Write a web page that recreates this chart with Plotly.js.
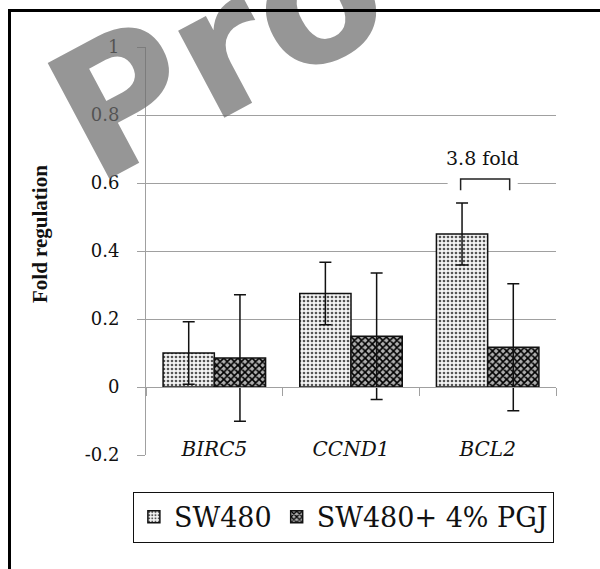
<!DOCTYPE html>
<html>
<head>
<meta charset="utf-8">
<script src="https://cdn.plot.ly/plotly-3.0.1.min.js"></script>
<style>
  html, body { margin: 0; padding: 0; background: #fff; }
  #wrap { position: relative; width: 600px; height: 569px; overflow: hidden; }
  #chart { width: 600px; height: 569px; }
  #frame { position: absolute; left: 8px; top: 9px; width: 700px; height: 700px;
           border-left: 3px solid #000; border-top: 3px solid #000; pointer-events: none; }
</style>
</head>
<body>
<div id="wrap">
  <div id="chart"></div>
  <div id="frame"></div>
</div>
<script>
// ---- data ----
const categories = ["BIRC5", "CCND1", "BCL2"];
const seriesNames = ["SW480", "SW480+ 4% PGJ"];
const sw480 = [0.10, 0.275, 0.45];
const sw480Err = [0.092, 0.092, 0.091];
const pgj = [0.085, 0.149, 0.117];
const pgjErr = [0.186, 0.186, 0.187];
const yTickVals = [-0.2, 0, 0.2, 0.4, 0.6, 0.8, 1];
const yTickText = ["-0.2", "0", "0.2", "0.4", "0.6", "0.8", "1"];
const yRange = [-0.2, 1];
const foldLabel = "3.8 fold";
const yTitle = "Fold regulation";
const watermark = "Pro";

const serif = "'DejaVu Serif', serif";
const gray = "#a0a0a0";

const traces = [
  {
    type: "bar", name: seriesNames[0], x: categories, y: sw480,
    marker: {
      color: "#f2f2f2",
      line: { color: "#111", width: 1.5 },
      pattern: { shape: ".", fgcolor: "#555", bgcolor: "#f4f4f4", size: 4, solidity: 0.35, fillmode: "replace" }
    },
    error_y: { type: "data", array: sw480Err, visible: true, color: "#111", thickness: 1.5, width: 6 }
  },
  {
    type: "bar", name: seriesNames[1], x: categories, y: pgj,
    marker: {
      color: "#444",
      line: { color: "#111", width: 1.5 },
      pattern: { shape: "x", fgcolor: "#000", bgcolor: "#b0b0b0", size: 5, solidity: 0.55, fillmode: "replace" }
    },
    error_y: { type: "data", array: pgjErr, visible: true, color: "#111", thickness: 1.5, width: 6 }
  }
];

const zeroPos = (0 - yRange[0]) / (yRange[1] - yRange[0]);
const bi = categories.length - 1;

const layout = {
  width: 600, height: 569,
  margin: { l: 146, r: 44, t: 47, b: 114 },
  paper_bgcolor: "#fff", plot_bgcolor: "#fff",
  barmode: "group", bargap: 0.25, bargroupgap: 0,
  showlegend: true,
  legend: {
    orientation: "h", x: -0.032, y: -0.09, xanchor: "left", yanchor: "top",
    bordercolor: "#111", borderwidth: 1, bgcolor: "#fff",
    font: { family: serif, size: 27, color: "#111" },
    itemwidth: 30
  },
  xaxis: {
    type: "category", categoryorder: "array", categoryarray: categories,
    anchor: "free", position: zeroPos,
    showline: true, linecolor: gray, linewidth: 1,
    ticks: "outside", tickson: "boundaries", ticklen: 8, tickcolor: gray,
    showgrid: false, zeroline: false,
    ticklabelstandoff: 44,
    tickfont: { family: serif, size: 20, style: "italic", color: "#111" }
  },
  yaxis: {
    range: yRange, tickmode: "array", tickvals: yTickVals, ticktext: yTickText,
    showline: true, linecolor: gray, linewidth: 1,
    ticks: "outside", ticklen: 8, tickcolor: gray,
    showgrid: true, gridcolor: gray, gridwidth: 1,
    zeroline: false,
    ticklabelstandoff: 14,
    tickfont: { family: serif, size: 18, color: "#111" }
  },
  annotations: [
    {
      text: yTitle, xref: "paper", yref: "paper", x: -0.2585, y: 0.5417,
      textangle: -90, showarrow: false, xanchor: "center", yanchor: "middle",
      font: { family: "'Liberation Serif', serif", size: 21, weight: "bold", color: "#111" }
    },
    {
      text: foldLabel, xref: "x", yref: "y", x: categories[bi], y: 0.673,
      xshift: -5, showarrow: false, xanchor: "center", yanchor: "middle",
      font: { family: serif, size: 19, color: "#111" }
    },
    {
      text: watermark, xref: "paper", yref: "paper", x: 0.174, y: 0.992,
      textangle: -28, showarrow: false, xanchor: "center", yanchor: "middle",
      font: { family: "'DejaVu Sans', sans-serif", size: 180, weight: "bold", color: "rgba(110,110,110,0.72)" }
    }
  ],
  shapes: [
    { type: "rect", xref: "x", yref: "y", x0: bi - 0.293, x1: bi + 0.22, y0: 0.59, y1: 0.61,
      fillcolor: "#fff", line: { width: 0 }, layer: "above" },
    { type: "path", xref: "x", yref: "y",
      path: `M ${bi - 0.198},0.579 L ${bi - 0.198},0.612 L ${bi + 0.161},0.612 L ${bi + 0.161},0.579`,
      line: { color: "#222", width: 1.5 }, layer: "above" }
  ]
};

Plotly.newPlot("chart", traces, layout, { displayModeBar: false, staticPlot: true });
</script>
</body>
</html>
